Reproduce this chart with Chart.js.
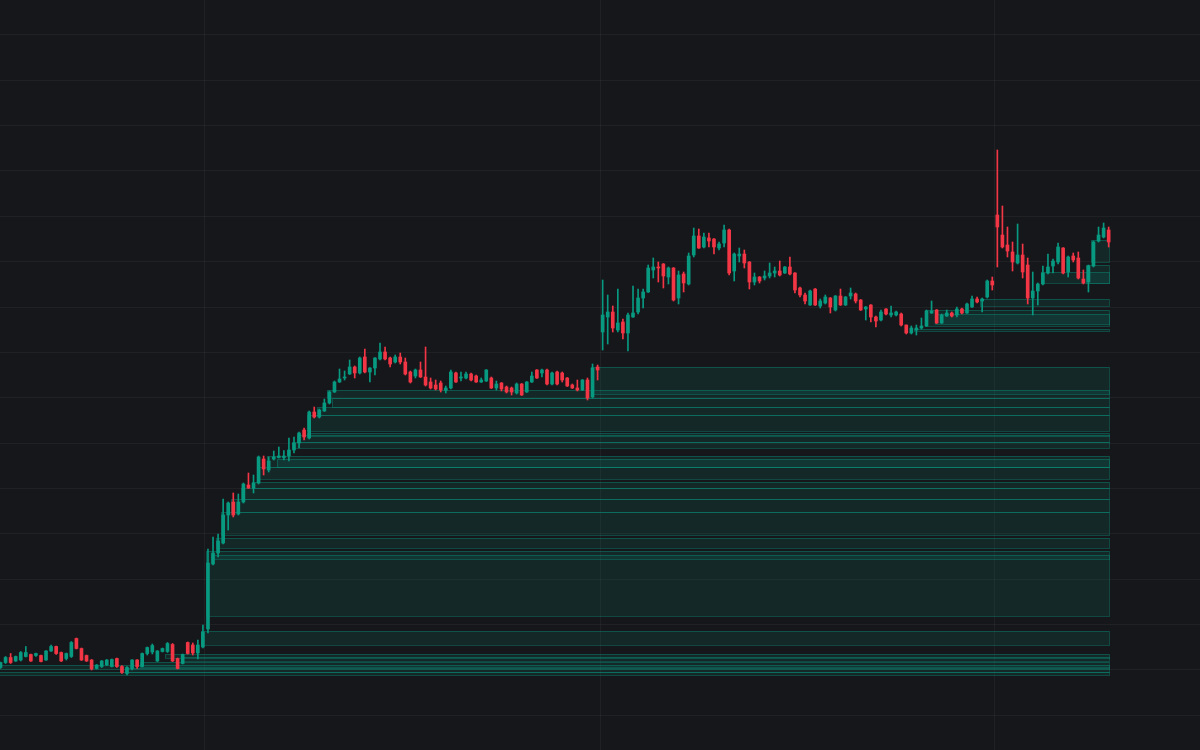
<!DOCTYPE html>
<html>
<head>
<meta charset="utf-8">
<script src="https://cdn.jsdelivr.net/npm/chart.js@4.4.1/dist/chart.umd.min.js"></script>
<style>
  html, body { margin: 0; padding: 0; background: #16171b; }
  #wrap { width: 1200px; height: 750px; }
</style>
</head>
<body>
<div id="wrap"><canvas id="chart" width="1200" height="750"></canvas></div>
<script>
// candles, one per bar index
const open = [
  16.5, 17.5, 18.5, 17.8, 18.0, 18.7, 19.1, 18.9, 18.9, 18.0,
  19.8, 20.7, 19.5, 18.3, 18.7, 22.3, 20.3, 18.9, 18.0, 16.3,
  16.7, 17.0, 16.7, 18.3, 16.7, 15.3, 16.3, 18.0, 16.7, 19.3,
  19.6, 17.8, 19.7, 19.7, 21.1, 18.3, 17.3, 21.5, 21.0, 19.4,
  20.6, 24.2, 37.2, 39.4, 41.4, 47.0, 49.6, 47.2, 49.6, 53.0,
  52.4, 53.4, 58.2, 56.0, 58.2, 58.5, 58.5, 58.8, 60.0, 61.4,
  64.0, 62.4, 67.6, 66.6, 67.8, 69.4, 71.6, 73.6, 74.4, 75.2,
  76.6, 75.4, 78.6, 75.6, 76.4, 78.2, 79.6, 78.4, 77.6, 78.6,
  77.6, 75.6, 74.8, 76.0, 74.6, 73.6, 73.0, 73.4, 71.9, 72.4,
  75.4, 74.4, 74.4, 75.2, 74.8, 73.6, 73.8, 74.4, 72.4, 73.4,
  72.6, 72.4, 71.4, 73.2, 71.6, 73.6, 76.0, 75.4, 76.0, 73.2,
  75.6, 75.4, 74.4, 73.0, 72.4, 72.0, 74.0, 70.6, 76.6, 83.6,
  86.6, 87.6, 84.0, 85.6, 83.4, 86.6, 87.6, 90.4, 91.6, 96.0,
  96.6, 97.2, 94.6, 96.4, 90.4, 95.2, 93.2, 99.0, 102.8, 100.6,
  102.4, 102.2, 100.4, 101.4, 104.0, 95.8, 98.8, 99.2, 97.6, 93.6,
  94.6, 94.4, 94.8, 95.4, 95.8, 95.4, 96.6, 95.4, 92.4, 91.0,
  89.0, 92.2, 88.8, 89.4, 90.4, 88.0, 90.8, 89.0, 90.8, 91.2,
  90.0, 88.2, 89.0, 86.6, 86.0, 88.2, 87.0, 87.0, 87.2, 85.0,
  83.4, 84.0, 84.4, 84.8, 87.4, 88.0, 85.4, 86.8, 87.4, 87.0,
  88.2, 87.4, 88.6, 90.2, 89.8, 90.6, 93.8, 107.0, 103.0, 101.0,
  99.6, 97.4, 99.0, 97.0, 90.4, 91.8, 93.2, 95.4, 96.8, 97.6,
  100.4, 95.6, 98.8, 98.4, 94.2, 93.6, 96.8, 101.8, 102.6, 104.0
];
const high = [
  17.6, 18.7, 19.3, 18.8, 19.7, 20.7, 19.2, 19.4, 19.0, 19.9,
  21.0, 20.8, 19.6, 19.4, 21.7, 22.4, 20.4, 19.0, 18.1, 17.1,
  17.9, 18.1, 18.2, 18.4, 16.9, 16.7, 18.1, 18.1, 19.4, 20.6,
  21.2, 19.9, 20.4, 21.5, 21.3, 18.4, 19.2, 21.6, 21.4, 22.0,
  25.0, 40.2, 42.6, 43.2, 50.2, 49.6, 51.4, 51.2, 53.4, 55.4,
  55.0, 58.8, 58.8, 58.6, 59.8, 60.6, 59.9, 62.4, 62.6, 63.6,
  64.4, 67.8, 68.6, 68.2, 70.2, 71.8, 73.8, 76.2, 75.8, 78.0,
  76.8, 78.6, 80.2, 76.5, 78.5, 81.4, 80.6, 78.6, 79.0, 79.4,
  78.4, 75.8, 76.2, 77.6, 80.6, 74.4, 74.0, 73.8, 72.8, 76.0,
  75.6, 75.6, 75.6, 75.4, 75.0, 74.4, 76.1, 74.6, 73.8, 73.5,
  72.8, 72.6, 73.4, 73.3, 73.7, 75.6, 76.1, 76.2, 76.2, 75.6,
  75.8, 75.6, 74.5, 73.2, 74.0, 74.1, 74.4, 77.2, 77.0, 94.0,
  91.0, 88.8, 92.2, 86.2, 87.4, 92.8, 92.2, 92.2, 97.0, 98.4,
  97.6, 97.3, 96.6, 96.5, 95.8, 95.6, 99.4, 104.4, 104.2, 103.4,
  103.4, 102.3, 101.6, 105.0, 104.2, 99.4, 100.4, 100.0, 97.7, 95.4,
  94.7, 95.8, 97.4, 96.6, 97.8, 96.7, 98.6, 95.5, 92.6, 91.4,
  92.0, 92.3, 90.2, 91.0, 90.5, 90.9, 92.2, 90.7, 92.4, 91.4,
  90.1, 88.7, 89.1, 86.8, 88.0, 88.3, 88.8, 87.8, 87.4, 85.0,
  84.8, 85.0, 86.4, 88.0, 89.8, 88.1, 87.2, 88.0, 87.6, 88.6,
  88.4, 89.4, 90.8, 90.6, 90.4, 94.0, 94.6, 120.0, 108.8, 104.6,
  101.6, 105.2, 101.2, 98.4, 95.6, 93.4, 96.8, 99.2, 98.2, 101.4,
  100.5, 98.8, 99.4, 99.6, 96.0, 97.0, 101.8, 104.6, 105.4, 104.6
];
const low = [
  16.3, 17.3, 17.3, 17.7, 17.8, 18.6, 17.7, 18.7, 17.6, 17.9,
  19.7, 19.1, 17.7, 18.0, 18.5, 20.2, 17.9, 17.7, 16.0, 16.2,
  16.5, 16.9, 16.6, 16.5, 15.3, 15.0, 16.0, 16.3, 16.6, 19.0,
  19.2, 17.7, 19.6, 19.5, 17.7, 16.2, 17.2, 19.2, 19.0, 18.2,
  20.4, 23.4, 37.0, 38.6, 41.2, 44.0, 46.6, 47.0, 49.4, 52.3,
  51.4, 53.2, 55.0, 55.6, 58.0, 58.4, 58.0, 57.8, 59.4, 60.4,
  62.0, 62.2, 66.4, 66.4, 67.7, 69.2, 71.5, 73.5, 74.0, 75.1,
  74.4, 75.2, 75.4, 73.6, 75.0, 78.0, 78.0, 76.6, 77.4, 77.2,
  75.0, 73.4, 74.4, 74.5, 72.8, 72.2, 72.0, 71.6, 71.4, 72.2,
  73.5, 73.8, 74.2, 73.8, 73.5, 73.5, 73.7, 72.3, 72.0, 71.8,
  71.4, 71.0, 71.2, 70.9, 71.5, 73.5, 74.3, 74.6, 73.0, 73.0,
  73.0, 73.6, 72.7, 72.3, 71.8, 71.9, 70.0, 70.4, 74.0, 80.0,
  81.2, 83.6, 83.6, 82.2, 79.8, 86.5, 87.2, 88.4, 91.5, 94.4,
  93.6, 92.4, 93.2, 89.8, 89.2, 91.6, 93.0, 98.6, 100.3, 100.4,
  100.6, 99.2, 100.0, 100.6, 95.0, 93.8, 97.6, 96.4, 92.2, 93.0,
  93.4, 94.0, 94.4, 94.6, 94.8, 95.3, 95.0, 91.4, 90.6, 89.2,
  88.9, 88.9, 88.4, 89.2, 87.4, 87.8, 88.9, 88.9, 90.2, 89.4,
  87.9, 86.0, 85.6, 84.6, 85.8, 87.0, 86.6, 86.8, 84.8, 83.2,
  83.2, 83.0, 84.2, 84.7, 87.3, 85.3, 85.3, 86.7, 86.6, 86.6,
  87.2, 87.3, 88.5, 89.4, 87.6, 90.4, 92.0, 96.6, 100.4, 98.6,
  95.8, 97.2, 94.4, 89.2, 87.0, 89.0, 93.0, 95.2, 95.4, 97.2,
  95.2, 94.6, 97.6, 94.2, 93.2, 91.6, 96.6, 101.6, 102.4, 100.6
];
const close = [
  17.5, 18.5, 17.5, 18.7, 19.5, 19.5, 17.8, 19.3, 17.7, 19.8,
  20.7, 19.3, 17.8, 19.3, 21.5, 20.3, 18.0, 17.8, 16.2, 17.0,
  17.8, 18.0, 18.1, 16.7, 15.5, 16.5, 18.0, 16.7, 19.3, 20.5,
  20.9, 19.8, 20.3, 21.3, 17.8, 16.3, 19.1, 19.3, 19.4, 21.0,
  23.6, 37.4, 39.4, 41.8, 47.0, 49.4, 47.0, 49.6, 53.2, 52.4,
  53.4, 58.6, 56.2, 57.8, 58.6, 58.8, 58.8, 60.0, 61.4, 63.4,
  62.6, 67.6, 66.6, 68.0, 69.4, 71.6, 73.6, 74.2, 74.6, 76.6,
  75.4, 78.4, 75.6, 76.4, 78.4, 79.6, 78.2, 77.2, 78.6, 77.6,
  75.2, 73.6, 76.0, 74.6, 73.0, 72.4, 72.2, 72.0, 72.4, 75.6,
  73.6, 74.6, 75.2, 74.0, 73.6, 74.0, 76.0, 72.4, 73.2, 72.2,
  71.6, 71.6, 73.2, 71.0, 73.6, 74.8, 74.4, 76.0, 73.2, 75.4,
  73.2, 74.0, 72.8, 72.4, 72.0, 74.0, 70.4, 76.4, 76.0, 87.0,
  87.6, 84.4, 85.4, 83.4, 87.0, 87.4, 90.4, 91.6, 96.4, 96.6,
  96.4, 94.8, 96.4, 90.0, 95.0, 93.4, 98.8, 102.8, 100.4, 102.6,
  101.8, 100.6, 101.2, 104.0, 95.4, 99.2, 99.2, 97.4, 93.6, 94.6,
  93.8, 94.8, 95.4, 95.8, 95.0, 96.6, 95.2, 92.0, 91.0, 89.8,
  91.8, 89.0, 89.8, 90.6, 88.6, 90.8, 89.0, 90.6, 91.4, 89.8,
  88.0, 88.6, 86.6, 85.8, 87.6, 87.2, 87.4, 87.6, 85.0, 83.4,
  84.4, 84.4, 84.8, 87.8, 87.8, 85.4, 87.0, 87.4, 86.8, 88.2,
  87.4, 89.2, 90.2, 89.6, 90.2, 93.8, 93.0, 104.6, 100.6, 99.8,
  97.6, 99.0, 95.6, 90.4, 91.8, 93.2, 95.4, 96.6, 97.8, 100.6,
  95.4, 98.6, 98.0, 94.4, 93.4, 96.8, 101.6, 103.0, 104.4, 101.6
];

// demand zones: first bar, upper and lower price; all run to zoneEnd
const zoneStart  = [-2, -2, 25, 28, 33, 36, 40, 41, 42, 43, 44, 46, 48, 50, 51, 53, 55, 58, 59, 61, 61, 63, 65, 66, 117, 181, 183, 185, 194, 206, 215, 216];
const zoneTop    = [17.1, 15.7, 16.5, 17.7, 19.3, 18.6, 23.8, 39.8, 39.0, 42.4, 47.6, 50.2, 52.4, 53.6, 56.6, 58.8, 58.2, 61.6, 63.0, 63.5, 67.0, 68.6, 72.0, 70.4, 76.6, 84.3, 88.0, 87.2, 90.2, 95.6, 97.0, 102.0];
const zoneBottom = [16.3, 15.0, 15.6, 16.7, 18.4, 17.8, 21.1, 26.8, 38.2, 40.4, 43.0, 47.6, 50.2, 52.4, 54.2, 56.6, 56.5, 60.5, 61.6, 62.8, 63.9, 67.0, 70.4, 68.6, 71.2, 83.7, 84.8, 85.2, 88.8, 93.4, 93.4, 97.6];
const zoneEnd = 219.1;

// grid positions (time grid on bar index, price grid)
const xGrid = [40.4, 118.5, 196.5];
const yGrid = [7, 16.07, 25.13, 34.2, 43.27, 52.33, 61.4, 70.47, 79.53, 88.6, 97.67, 106.73, 115.8, 124.87, 133.93, 143];

const upColor = '#089981';
const downColor = '#f23645';
const bgColor = '#16171b';
const gridColor = 'rgba(255,255,255,0.045)';

const idx = open.map((_, i) => i);
const colors = idx.map(i => close[i] >= open[i] ? upColor : downColor);

const background = {
  id: 'background',
  beforeDraw(chart) {
    const ctx = chart.ctx;
    ctx.save();
    ctx.fillStyle = bgColor;
    ctx.fillRect(0, 0, chart.width, chart.height);
    ctx.restore();
  }
};

const zones = {
  id: 'zones',
  beforeDatasetsDraw(chart) {
    const { ctx, scales: { x, y }, chartArea } = chart;
    ctx.save();
    ctx.beginPath();
    ctx.rect(chartArea.left, chartArea.top, chartArea.right - chartArea.left, chartArea.bottom - chartArea.top);
    ctx.clip();
    zoneStart.forEach((s, k) => {
      const x0 = Math.round(x.getPixelForValue(s) - 2);
      const x1 = Math.round(x.getPixelForValue(zoneEnd));
      const y0 = Math.round(y.getPixelForValue(zoneTop[k]));
      const y1 = Math.round(y.getPixelForValue(zoneBottom[k]));
      ctx.fillStyle = 'rgba(8,153,129,0.13)';
      ctx.fillRect(x0, y0, x1 - x0, y1 - y0);
      ctx.strokeStyle = 'rgba(8,153,129,0.38)';
      ctx.lineWidth = 1;
      ctx.strokeRect(x0 + 0.5, y0 + 0.5, x1 - x0, y1 - y0);
    });
    ctx.restore();
  }
};

new Chart(document.getElementById('chart'), {
  type: 'bar',
  data: {
    datasets: [
      {
        label: 'body',
        data: idx.map(i => ({ x: i, y: [open[i], close[i]] })),
        backgroundColor: colors,
        barThickness: 3,
        minBarLength: 1,
        grouped: false,
        order: 1
      },
      {
        label: 'wick',
        data: idx.map(i => ({ x: i, y: [low[i], high[i]] })),
        backgroundColor: colors,
        barThickness: 1,
        grouped: false,
        order: 2
      }
    ]
  },
  options: {
    responsive: false,
    animation: false,
    layout: { padding: 0 },
    plugins: { legend: { display: false }, tooltip: { enabled: false } },
    scales: {
      x: {
        type: 'linear',
        min: -0.1,
        max: 237.05,
        offset: false,
        afterBuildTicks: s => { s.ticks = xGrid.map(v => ({ value: v })); },
        ticks: { display: false },
        grid: { color: gridColor, drawTicks: false, offset: false },
        border: { display: false }
      },
      y: {
        type: 'linear',
        min: 0,
        max: 150,
        afterBuildTicks: s => { s.ticks = yGrid.map(v => ({ value: v })); },
        ticks: { display: false },
        grid: { color: gridColor, drawTicks: false },
        border: { display: false }
      }
    }
  },
  plugins: [background, zones]
});
</script>
</body>
</html>
